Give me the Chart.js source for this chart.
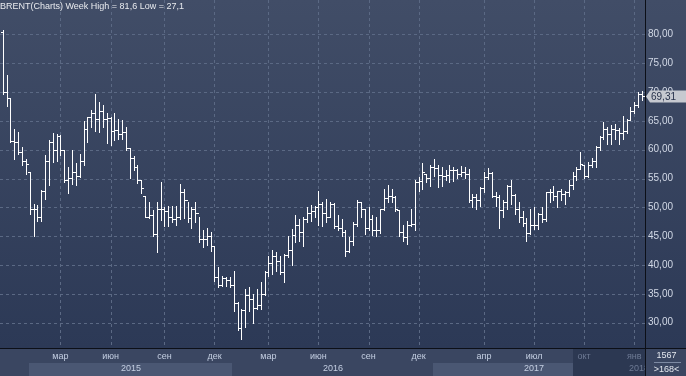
<!DOCTYPE html>
<html>
<head>
<meta charset="utf-8">
<script src="https://cdn.jsdelivr.net/npm/chart.js@4.4.1/dist/chart.umd.min.js"></script>
<style>
  html, body { margin: 0; padding: 0; background: #2e3b56; }
  #wrap { width: 686px; height: 376px; }
</style>
</head>
<body>
<div id="wrap"><canvas id="chart" width="686" height="376"></canvas></div>
<script>
// weekly BRENT bars (index = week number)
const opens = [
  80.5,70.0,69.0,61.5,61.4,59.6,58.1,56.1,49.8,49.8,
  48.4,52.8,58.1,61.4,60.0,62.4,59.9,54.7,55.1,56.1,
  55.4,58.0,63.6,65.6,66.4,65.4,66.7,65.4,65.5,63.2,
  63.5,62.8,63.1,60.3,58.5,57.0,54.8,51.9,48.4,48.7,
  45.4,49.8,49.8,49.3,48.3,48.0,48.3,52.6,51.3,48.1,
  49.7,49.0,44.5,44.5,45.0,43.3,38.0,36.5,37.8,37.4,
  36.5,33.4,29.0,32.2,34.8,34.1,32.6,33.0,34.9,38.8,
  40.3,41.6,40.7,38.7,41.7,42.6,45.2,46.9,45.7,47.9,
  49.0,49.4,50.0,50.6,49.1,48.4,50.6,46.8,46.5,45.7,
  42.5,44.2,47.1,50.9,49.7,46.5,47.9,46.0,46.1,49.7,
  51.6,51.9,51.8,49.6,45.7,44.8,46.9,47.1,54.4,54.5,
  55.8,55.1,57.0,56.8,55.6,55.4,55.6,56.5,56.4,55.8,
  56.1,55.8,51.3,51.8,51.3,53.3,55.2,56.0,52.0,51.8,
  49.6,51.0,53.7,52.2,49.8,48.3,47.3,45.5,46.9,46.9,
  48.9,48.0,52.6,52.7,52.0,52.9,52.3,52.6,53.9,55.4,
  56.7,57.4,55.5,57.3,58.0,60.5,62.2,63.6,62.8,63.6,
  63.5,62.9,63.2,65.1,66.7,67.7,69.7
];
const highs = [
  80.8,73.0,69.0,63.6,63.1,60.5,58.4,56.2,50.6,50.4,
  53.0,59.0,61.6,62.9,62.8,62.5,59.9,57.0,59.9,57.7,
  59.3,65.0,65.7,66.9,69.6,68.2,67.8,66.3,65.7,66.3,
  65.4,65.1,63.9,60.3,58.9,57.4,54.8,52.0,51.0,49.5,
  51.0,54.4,50.0,50.3,50.3,50.3,54.1,53.2,50.9,50.0,
  51.0,48.4,46.1,46.5,45.7,43.3,39.7,38.1,38.0,38.0,
  39.0,33.5,32.3,35.8,36.1,34.9,35.8,37.1,39.0,41.5,
  42.6,42.2,41.6,41.9,45.0,46.2,48.6,48.0,48.3,50.0,
  50.4,50.3,52.9,50.9,51.5,50.9,50.8,48.6,48.0,46.0,
  44.8,47.4,51.2,50.9,49.8,50.0,48.7,48.3,49.8,53.1,
  53.8,53.1,51.9,49.6,46.9,47.7,49.8,54.7,55.2,57.7,
  55.8,57.3,58.4,57.3,57.0,56.4,57.4,57.0,56.7,57.1,
  57.0,56.7,52.3,52.3,53.5,56.1,56.8,56.1,52.6,52.2,
  51.2,53.8,54.7,52.3,50.9,49.3,48.1,49.8,50.0,49.1,
  50.0,52.7,53.1,53.7,52.9,53.1,52.9,54.8,56.1,57.0,
  59.6,57.4,57.8,58.5,60.7,62.4,64.8,63.9,64.2,64.5,
  63.8,65.8,65.3,67.4,68.2,70.0,70.1
];
const lows = [
  69.7,67.5,61.3,58.4,59.3,57.3,55.8,48.9,45.1,47.7,
  47.6,51.5,53.9,57.8,58.0,59.0,54.4,52.5,54.1,53.9,
  55.2,57.3,61.3,63.9,63.2,63.1,63.9,61.2,60.9,61.6,
  61.9,61.9,60.0,55.1,56.4,54.2,52.5,48.3,48.1,45.1,
  42.2,47.8,46.8,46.8,47.4,46.9,48.0,48.1,47.4,46.5,
  47.4,44.0,43.1,43.5,42.4,37.2,36.1,36.4,36.3,36.1,
  32.0,28.8,27.1,29.3,32.0,29.9,32.3,32.3,34.8,38.1,
  38.4,39.0,38.4,37.1,41.3,40.0,44.0,44.2,43.3,47.4,
  47.7,48.4,46.9,46.8,47.4,48.3,46.5,46.0,45.1,41.6,
  42.2,43.5,46.8,48.4,45.4,46.1,45.2,45.0,45.5,49.6,
  51.0,50.9,49.4,45.0,44.2,43.6,46.8,46.0,52.9,53.2,
  54.4,53.7,55.4,53.5,53.7,54.7,54.4,54.5,55.1,55.5,
  55.1,51.0,50.0,49.8,50.3,52.6,54.9,51.8,50.3,46.5,
  48.3,49.8,50.6,48.9,47.4,46.8,44.2,45.4,46.2,46.2,
  47.5,47.7,50.9,51.2,50.0,51.3,50.6,52.0,53.1,54.8,
  56.7,55.1,55.2,57.0,57.0,60.0,61.9,61.0,61.0,61.9,
  61.0,61.9,62.9,65.1,66.3,67.4,68.6
];
const closes = [
  70.0,69.0,61.5,61.4,59.6,58.1,57.5,49.8,49.8,48.4,
  52.8,58.1,61.4,60.0,62.4,59.9,54.7,55.1,56.1,55.4,
  58.0,63.6,65.6,66.4,65.4,66.7,65.4,65.5,63.2,63.5,
  62.8,63.1,60.3,58.5,57.0,54.8,53.3,48.4,48.7,45.4,
  49.8,49.8,49.3,48.3,48.0,48.3,52.6,51.3,48.1,49.7,
  49.0,44.5,44.5,45.0,43.3,38.0,36.5,37.8,37.4,36.5,
  33.4,29.0,32.2,34.8,34.1,32.6,33.0,34.9,38.8,40.3,
  41.6,40.7,38.7,41.7,42.6,45.2,46.9,45.7,47.9,49.0,
  49.4,50.0,50.6,49.1,48.4,50.6,46.8,46.5,45.7,42.5,
  44.2,47.1,50.9,49.7,46.5,47.9,46.0,46.1,49.7,51.6,
  51.9,51.8,49.7,45.7,44.8,46.9,47.1,54.4,54.5,56.2,
  55.1,57.0,56.8,55.6,55.4,55.6,56.5,56.4,55.8,56.1,
  55.8,51.3,51.8,51.3,53.3,55.2,56.0,52.0,51.8,49.6,
  51.0,53.7,52.2,49.8,48.3,47.3,45.5,46.9,46.9,48.9,
  48.0,52.6,52.7,52.0,52.9,52.3,52.6,53.9,55.4,56.7,
  57.6,55.5,57.3,58.0,60.5,62.2,63.6,62.8,63.6,63.5,
  62.9,63.2,65.1,66.7,67.7,69.7,69.31
];

// axis labels
const priceTicks = [30, 35, 40, 45, 50, 55, 60, 65, 70, 75, 80];
const monthTicks = [15, 28, 42, 55, 69, 82, 95, 108, 125, 138, 151, 164];
const monthLabels = ['мар', 'июн', 'сен', 'дек', 'мар', 'июн', 'сен', 'дек', 'апр', 'июл', 'окт', 'янв'];
const yearStarts = [6.8, 59.6, 111.8, 164.0];
const yearLabels = ['2015', '2016', '2017', '2018'];
const dimFrom = 148.1;   // start of the shaded (scroll) part of the time axis

const titleText = 'BRENT(Charts) Week High = 81,6 Low = 27,1';
const barCountText = '1567';
const visibleText = '>168<';

const fmt = v => v.toFixed(2).replace('.', ',');
const FONT = '"Liberation Sans", Arial, sans-serif';
const gridColor = '#5b6984';

// background, axis panel and year bands
const backdrop = {
    id: 'backdrop',
    beforeDraw(chart) {
        const { ctx, chartArea: a, scales: { x } } = chart;
        const W = chart.width, H = chart.height;
        ctx.save();
        const g = ctx.createLinearGradient(0, 0, 0, a.bottom);
        g.addColorStop(0, '#414d67');
        g.addColorStop(1, '#2c3956');
        ctx.fillStyle = g;
        ctx.fillRect(0, 0, W, a.bottom);
        // time axis panel
        ctx.fillStyle = '#3a4661';
        ctx.fillRect(0, a.bottom, W, H - a.bottom);
        // alternating year bands in the lower row
        const rowTop = a.bottom + 15;
        yearStarts.forEach((s, i) => {
            if (i % 2 !== 0) return;
            const x0 = Math.round(x.getPixelForValue(s));
            const next = i + 1 < yearStarts.length ? yearStarts[i + 1] : x.max;
            const x1 = Math.min(Math.round(x.getPixelForValue(next)), a.right);
            ctx.fillStyle = '#4a5773';
            ctx.fillRect(x0, rowTop, x1 - x0, H - rowTop);
        });
        // shaded tail
        const xd = Math.round(x.getPixelForValue(dimFrom));
        ctx.fillStyle = '#2c3852';
        ctx.fillRect(xd, a.bottom, a.right - xd, H - a.bottom);
        ctx.restore();
    }
};

// dashed grid drawn on the scales' tick positions
const dashedGrid = {
    id: 'dashedGrid',
    beforeDatasetsDraw(chart) {
        const { ctx, chartArea: a, scales: { x, y } } = chart;
        ctx.save();
        ctx.strokeStyle = gridColor;
        ctx.lineWidth = 1;
        ctx.setLineDash([3, 3]);
        ctx.beginPath();
        y.ticks.forEach(t => {
            const py = Math.round(y.getPixelForValue(t.value)) + 0.5;
            ctx.moveTo(a.left, py);
            ctx.lineTo(a.right, py);
        });
        x.ticks.forEach(t => {
            const px = Math.round(x.getPixelForValue(t.value)) + 0.5;
            ctx.moveTo(px, a.top);
            ctx.lineTo(px, a.bottom);
        });
        ctx.stroke();
        ctx.restore();
    }
};

// OHLC bars drawn from the data through the chart scales
const ohlcBars = {
    id: 'ohlcBars',
    afterDatasetsDraw(chart) {
        const { ctx, scales: { x, y } } = chart;
        ctx.save();
        ctx.strokeStyle = '#ffffff';
        ctx.lineWidth = 1;
        ctx.beginPath();
        for (let i = 0; i < closes.length; i++) {
            const px = Math.round(x.getPixelForValue(i)) + 0.5;
            const top = Math.round(y.getPixelForValue(highs[i]));
            const bot = Math.round(y.getPixelForValue(lows[i])) + 1;
            ctx.moveTo(px, top);
            ctx.lineTo(px, bot);
            const yo = Math.round(y.getPixelForValue(opens[i])) + 0.5;
            const yc = Math.round(y.getPixelForValue(closes[i])) + 0.5;
            ctx.moveTo(px - 2.5, yo);
            ctx.lineTo(px - 0.5, yo);
            ctx.moveTo(px + 0.5, yc);
            ctx.lineTo(px + 2.5, yc);
        }
        ctx.stroke();
        ctx.restore();
    }
};

// title, last price marker, year labels, counters, frame lines
const overlay = {
    id: 'overlay',
    afterDraw(chart) {
        const { ctx, chartArea: a, scales: { x, y } } = chart;
        const W = chart.width, H = chart.height;
        ctx.save();
        ctx.textBaseline = 'middle';

        ctx.font = '9px ' + FONT;
        ctx.fillStyle = '#e8eaee';
        ctx.textAlign = 'left';
        ctx.fillText(titleText, 0, 7);

        // year labels in the lower row of the time axis
        ctx.save();
        ctx.beginPath();
        ctx.rect(0, a.bottom, a.right, H - a.bottom);
        ctx.clip();
        ctx.textAlign = 'center';
        yearStarts.forEach((s, i) => {
            const next = i + 1 < yearStarts.length ? yearStarts[i + 1] : s + 52;
            let cx = (x.getPixelForValue(s) + x.getPixelForValue(next)) / 2;
            cx = Math.min(cx, a.right - 6);
            ctx.fillStyle = s >= dimFrom ? '#6d7a94' : '#c4cfe2';
            ctx.fillText(yearLabels[i], Math.round(cx), a.bottom + 21);
        });
        ctx.restore();

        // frame lines
        ctx.fillStyle = '#0c0f17';
        ctx.fillRect(a.right, 0, 1, H);
        ctx.fillRect(0, a.bottom, W, 1);

        // last price marker
        const last = closes[closes.length - 1];
        const py = Math.round(y.getPixelForValue(last));
        ctx.fillStyle = '#c6c9d0';
        ctx.beginPath();
        ctx.moveTo(a.right + 1, py + 0.5);
        ctx.lineTo(a.right + 5, py - 5.5);
        ctx.lineTo(W, py - 5.5);
        ctx.lineTo(W, py + 6.5);
        ctx.lineTo(a.right + 5, py + 6.5);
        ctx.closePath();
        ctx.fill();
        ctx.font = '10px ' + FONT;
        ctx.fillStyle = '#27324b';
        ctx.textAlign = 'left';
        ctx.fillText(fmt(last), a.right + 6, py + 1);

        // counters in the corner
        ctx.font = '9px ' + FONT;
        ctx.fillStyle = '#e3e7ee';
        ctx.textAlign = 'center';
        const cx = (a.right + W) / 2 + 1;
        ctx.fillText(barCountText, cx, a.bottom + 8);
        ctx.fillText(visibleText, cx, a.bottom + 22);
        ctx.fillStyle = '#7d8aa3';
        ctx.fillRect(a.right + 9, a.bottom + 14, 27, 1);
        ctx.restore();
    }
};

const barData = highs.map((h, i) => ({ x: i, y: [lows[i], h] }));

new Chart(document.getElementById('chart'), {
    type: 'bar',
    data: {
        datasets: [{
            label: 'BRENT',
            data: barData,
            backgroundColor: 'rgba(0,0,0,0)',
            borderWidth: 0,
            barThickness: 1
        }]
    },
    options: {
        responsive: false,
        animation: false,
        devicePixelRatio: 1,
        layout: { padding: 0 },
        plugins: {
            legend: { display: false },
            tooltip: { enabled: false }
        },
        scales: {
            x: {
                type: 'linear',
                position: 'bottom',
                min: -0.7,
                max: 166.8,
                offset: false,
                afterFit: (s) => { s.height = 28; s.paddingLeft = 0; s.paddingRight = 0; },
                afterBuildTicks: (s) => { s.ticks = monthTicks.map(v => ({ value: v })); },
                ticks: {
                    autoSkip: false,
                    maxRotation: 0,
                    padding: 3,
                    font: { family: FONT, size: 9 },
                    color: (c) => (c.tick && c.tick.value >= dimFrom ? '#6d7a94' : '#c4cfe2'),
                    callback: (v, i) => monthLabels[i]
                },
                grid: { display: false, drawTicks: false, offset: false },
                border: { display: false }
            },
            y: {
                position: 'right',
                min: 25.6,
                max: 85.97,
                beginAtZero: false,
                afterFit: (s) => { s.width = 41; s.paddingTop = 0; s.paddingBottom = 0; },
                afterBuildTicks: (s) => { s.ticks = priceTicks.map(v => ({ value: v })); },
                ticks: {
                    padding: 3,
                    font: { family: FONT, size: 10 },
                    color: '#d2d9e6',
                    callback: (v) => fmt(v)
                },
                grid: { display: false, drawTicks: false },
                border: { display: false }
            }
        }
    },
    plugins: [backdrop, dashedGrid, ohlcBars, overlay]
});
</script>
</body>
</html>
